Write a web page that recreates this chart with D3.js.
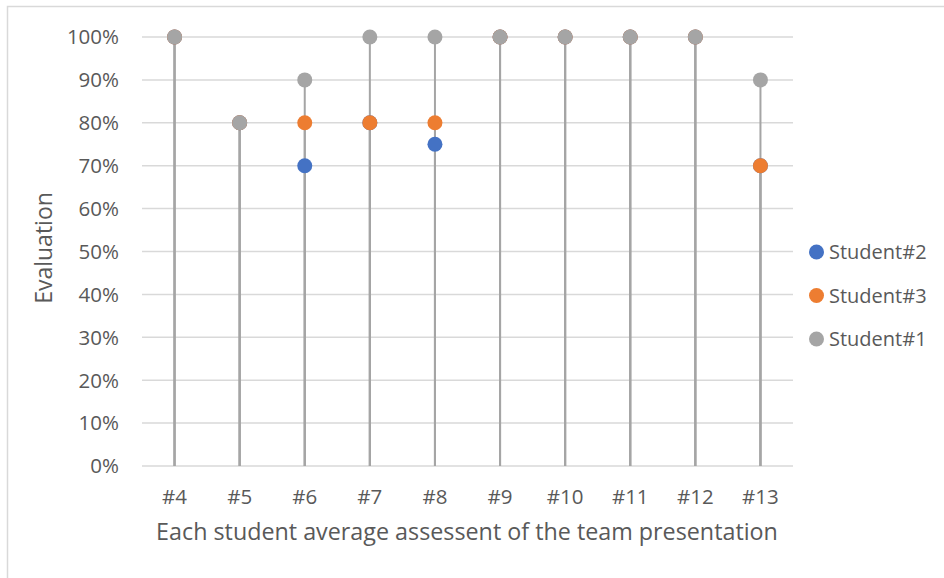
<!DOCTYPE html>
<html><head><meta charset="utf-8">
<script src="https://cdn.jsdelivr.net/npm/d3@7/dist/d3.min.js"></script>
<style>body{margin:0;background:#fff}svg{display:block}text{font-family:"Open Sans",sans-serif;fill:#595959}</style>
</head><body>
<svg id="c" width="944" height="578"></svg>
<script>
const categories = ["#4","#5","#6","#7","#8","#9","#10","#11","#12","#13"];
const student2 = [1.00,0.80,0.70,0.80,0.75,1.00,1.00,1.00,1.00,0.70];
const student3 = [1.00,0.80,0.80,0.80,0.80,1.00,1.00,1.00,1.00,0.70];
const student1 = [1.00,0.80,0.90,1.00,1.00,1.00,1.00,1.00,1.00,0.90];
const yTicks = [0,0.1,0.2,0.3,0.4,0.5,0.6,0.7,0.8,0.9,1.0];
const seriesNames = ["Student#2","Student#3","Student#1"];
const seriesValues = [student2, student3, student1];
const seriesColors = ["#4472C4","#ED7D31","#A5A5A5"];

const svg = d3.select("#c");
svg.append("rect").attr("x",7.5).attr("y",6.5).attr("width",960).attr("height",600)
  .attr("fill","#fff").attr("stroke","#D9D9D9").attr("stroke-width",1.5);

const L=142, R=793, T=37, B=466;
const x = d3.scaleBand().domain(categories).range([L,R]);
const y = d3.scaleLinear().domain([0,1]).range([B,T]);

// gridlines
svg.append("g").selectAll("line").data(yTicks).join("line")
  .attr("x1",L).attr("x2",R).attr("y1",d=>y(d)).attr("y2",d=>y(d))
  .attr("stroke","#D9D9D9").attr("stroke-width",1.5);

// y tick labels
svg.append("g").selectAll("text").data(yTicks).join("text")
  .attr("x",119).attr("y",d=>y(d)).attr("dy","0.36em").attr("text-anchor","end")
  .attr("font-size",20.5).text(d=>d3.format(".0%")(d));

// x tick labels
svg.append("g").selectAll("text").data(categories).join("text")
  .attr("x",d=>x(d)+x.bandwidth()/2).attr("y",504).attr("text-anchor","middle")
  .attr("font-size",20.5).text(d=>d);

// drop lines
seriesValues.forEach(vals=>{
  svg.append("g").selectAll("line").data(vals).join("line")
    .attr("x1",(d,i)=>x(categories[i])+x.bandwidth()/2).attr("x2",(d,i)=>x(categories[i])+x.bandwidth()/2)
    .attr("y1",d=>y(d)).attr("y2",y(0))
    .attr("stroke","#A5A5A5").attr("stroke-width",2);
});

// markers
seriesValues.forEach((vals,s)=>{
  svg.append("g").selectAll("circle").data(vals).join("circle")
    .attr("cx",(d,i)=>x(categories[i])+x.bandwidth()/2).attr("cy",d=>y(d)).attr("r",7.5)
    .attr("fill",seriesColors[s]);
});

// axis titles
svg.append("text").attr("transform","translate(52,248) rotate(-90)").attr("text-anchor","middle")
  .attr("font-size",23).text("Evaluation");
svg.append("text").attr("x",467).attr("y",540).attr("text-anchor","middle")
  .attr("font-size",23.3).text("Each student average assessent of the team presentation");

// legend
const lg = svg.append("g").selectAll("g").data(seriesNames).join("g")
  .attr("transform",(d,i)=>`translate(816.5,${252+i*43.5})`);
lg.append("circle").attr("r",7.5).attr("fill",(d,i)=>seriesColors[i]);
lg.append("text").attr("x",12.5).attr("dy","0.36em").attr("font-size",20).text(d=>d);
</script>
</body></html>
